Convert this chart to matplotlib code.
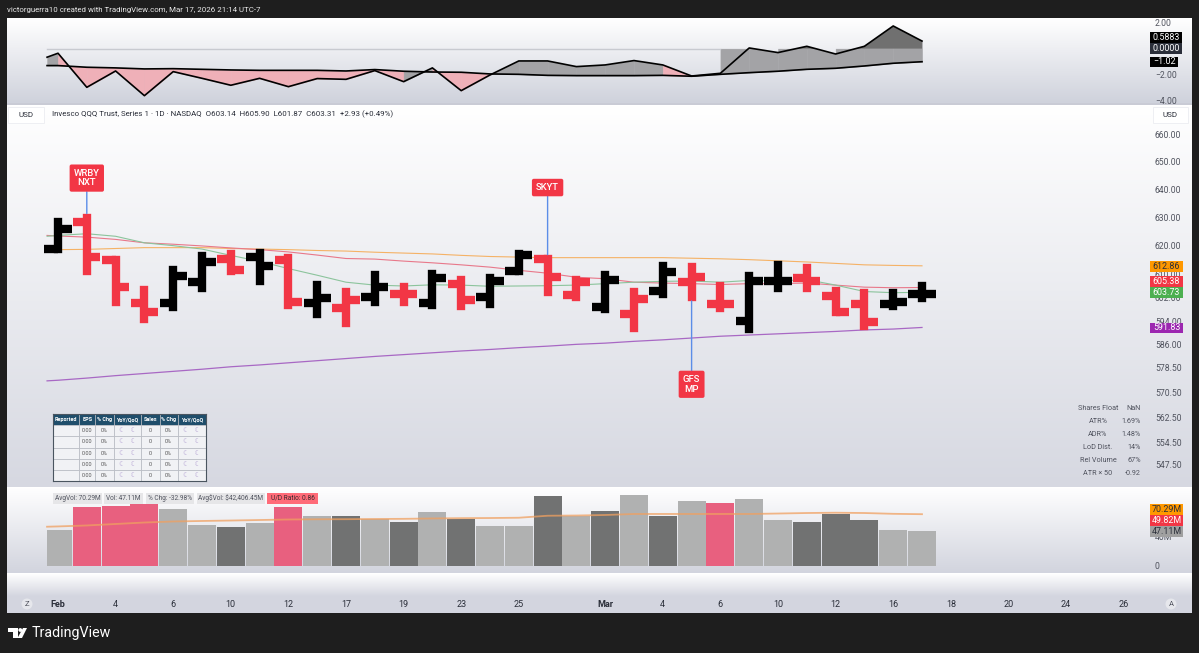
import matplotlib
matplotlib.use("Agg")
import matplotlib.pyplot as plt
from matplotlib.patches import Rectangle, Polygon, Circle
import numpy as np

plt.rcParams['font.family'] = ['Roboto', 'DejaVu Sans']

W = 1199
H = 653

# price bars (31 sessions, Feb 2 -> Mar 17)
opens = [618.8, 628.2, 614.8, 600.1, 600.1, 607.4, 615.2, 616.1, 614.8, 600.2, 598.3, 602.0, 603.3, 600.1, 606.5, 602.3,
         611.0, 615.3, 602.7, 598.7, 596.2, 604.1, 607.3, 599.7, 594.1, 607.6, 608.6, 602.6, 599.6, 599.9, 603.14]
highs = [628.4, 629.8, 614.8, 604.6, 611.3, 616.2, 616.8, 617.4, 615.7, 606.2, 603.7, 609.7, 605.7, 610.1, 607.8, 608.8,
         616.8, 615.3, 608.1, 609.8, 603.8, 612.7, 612.6, 605.9, 609.2, 613.1, 612.1, 604.2, 603.4, 603.6, 605.90]
lows = [618.7, 610.9, 600.4, 594.7, 598.8, 605.1, 610.9, 607.5, 599.5, 596.5, 593.3, 600.5, 600.5, 599.3, 599.2, 599.7,
        610.9, 603.9, 602.2, 597.9, 591.8, 603.3, 602.2, 598.4, 591.3, 605.2, 605.1, 597.0, 592.2, 599.0, 601.87]
closes = [625.9, 616.1, 605.5, 596.9, 609.5, 614.2, 611.3, 612.8, 600.4, 601.9, 601.1, 605.5, 603.3, 608.6, 601.0, 607.6,
          616.6, 609.0, 607.3, 607.8, 601.4, 610.6, 608.9, 599.7, 607.6, 607.7, 607.5, 597.1, 593.6, 600.3, 603.31]

# moving averages, first value is where the line enters at the left edge
ma_green = [623.2, 623.5, 624.1, 623.2, 620.9, 619.9, 618.7, 616.5, 614.4, 611.9, 609.6, 607.2, 606.2, 605.9, 606.3, 606.2,
            605.8, 605.9, 606.0, 606.2, 606.7, 607.2, 607.5, 607.6, 607.2, 607.8, 607.6, 608.1, 606.2, 604.0, 603.6, 603.73]
ma_red = [623.5, 623.3, 622.9, 622.1, 620.9, 620.4, 619.8, 619.1, 618.5, 617.7, 616.6, 615.4, 615.2, 614.5, 613.9, 613.2,
          612.4, 611.3, 610.3, 608.9, 608.4, 607.2, 606.9, 606.7, 606.4, 606.7, 606.7, 606.9, 606.2, 605.5, 605.3, 605.38]
ma_orange = [618.5, 618.5, 618.6, 618.9, 619.2, 619.2, 619.2, 618.9, 618.7, 618.5, 618.2, 618.0, 617.6, 617.3, 617.0, 616.5,
             616.1, 615.9, 615.7, 615.7, 615.7, 615.7, 615.7, 615.5, 615.3, 615.0, 614.6, 614.2, 613.7, 613.2, 613.0, 612.86]
ma_purple = [574.2, 574.4, 575.1, 575.9, 576.6, 577.3, 578.0, 578.8, 579.4, 580.1, 580.8, 581.5, 582.2, 582.8, 583.4, 584.0,
             584.5, 585.1, 585.6, 586.2, 586.6, 587.2, 587.7, 588.3, 588.9, 589.3, 589.7, 590.1, 590.5, 591.0, 591.3, 591.83]

# top oscillator
osc = [-0.67, -0.36, -3.01, -1.74, -3.66, -1.79, -2.31, -2.85, -2.31, -2.96, -2.33, -2.39, -1.71, -2.57, -1.50, -3.27,
       -2.05, -0.96, -0.96, -1.40, -1.27, -0.93, -1.27, -2.13, -1.92, 0.05, -0.31, 0.18, -0.42, 0.18, 1.76, 0.5883]
signal = [-1.32, -1.32, -1.45, -1.50, -1.58, -1.56, -1.61, -1.66, -1.69, -1.69, -1.69, -1.74, -1.63, -1.76, -1.82, -1.84,
          -1.97, -2.00, -2.08, -2.10, -2.10, -2.10, -2.08, -2.15, -2.00, -1.87, -1.76, -1.61, -1.53, -1.35, -1.14, -1.02]
osc_seg = "g" + "p" * 12 + "g" + "pp" + "g" * 6 + "p" + "g" * 9
osc_rising = [23, 25, 27]

# volume in millions
volume = [49.3, 79.6, 81.0, 83.7, 77.3, 55.6, 53.3, 57.9, 80.5, 68.2, 68.2, 63.8, 60.1, 73.3, 63.4, 54.3,
          54.7, 95.0, 67.8, 74.6, 96.3, 68.2, 88.6, 85.1, 91.3, 62.8, 59.3, 70.6, 62.4, 48.8, 47.11]
vol_kind = "lppplldlpldldldlldldldlplldddll"
vol_ma = [53.3, 53.7, 55.0, 57.0, 59.0, 60.4, 61.1, 61.7, 62.4, 63.1, 63.4, 63.5, 63.8, 64.0, 64.5, 64.9,
          65.1, 65.5, 68.2, 68.5, 69.2, 70.6, 70.6, 70.6, 70.6, 70.6, 71.2, 71.9, 72.3, 71.9, 70.8, 70.29]

price_ticks = [660, 650, 640, 630, 620, 610, 602, 594, 586, 578.5, 570.5, 562.5, 554.5, 547.5]
osc_ticks = [2, -2, -4]
vol_ticks = [0, 40]
date_pos = [0, 2, 4, 6, 8, 10, 12, 14, 16, 19, 21, 23, 25, 27, 29, 31, 33, 35, 37]
date_labels = ["Feb", "4", "6", "10", "12", "17", "19", "23", "25", "Mar", "4", "6", "10", "12", "16", "18", "20", "24", "26"]

marker_names = ["WRBY\nNXT", "SKYT", "GFS\nMP"]
marker_bars = [1, 17, 22]

table_cols = ["Reported", "EPS", "% Chg", "YoY/QoQ", "Sales", "% Chg", "YoY/QoQ"]
table_row = ["", "0.00", "0%", "☾   ☾", "0", "0%", "☾   ☾"]

stat_names = ["Shares Float", "ATR%", "ADR%", "LoD Dist.", "Rel Volume", "ATR × 50"]
stat_values = ["NaN", "1.69%", "1.48%", "14%", "67%", "-0.92"]

RED = "#F23645"
BAR_PINK = "#E8607F"
TXT = "#50535E"

x = np.arange(31)
x_line = np.concatenate([[-0.38], x])


def axes_px(fig, x0, y0, x1, y1):
    ax = fig.add_axes([x0 / W, 1 - y1 / H, (x1 - x0) / W, (y1 - y0) / H])
    ax.patch.set_alpha(0)
    for s in ax.spines.values():
        s.set_visible(False)
    ax.set_xlim((x0 - 58) / 28.8, (x1 - 58) / 28.8)
    ax.tick_params(length=0)
    return ax


def put(fig, px, py, s, size=6.2, color=TXT, ha='left', **kw):
    fig.text(px / W, 1 - py / H, s, fontsize=size, color=color, ha=ha, va='center', zorder=11, **kw)


def tag(fig, x0, y0, x1, y1, s, fc, tc, size=6.4, ec='none'):
    fig.add_artist(Rectangle((x0 / W, 1 - y1 / H), (x1 - x0) / W, (y1 - y0) / H, transform=fig.transFigure,
                             fc=fc, ec=ec, lw=0.6, zorder=10))
    put(fig, (x0 + x1) / 2, (y0 + y1) / 2, s, size=size, color=tc, ha='center')


def gradient(img, y0, y1, c0, c1):
    c0 = np.array(matplotlib.colors.to_rgb(c0))
    c1 = np.array(matplotlib.colors.to_rgb(c1))
    for i in range(y0, y1):
        t = (i - y0) / max(1, y1 - y0 - 1)
        img[i, :, :] = c0 + (c1 - c0) * t


def main():
    fig = plt.figure(figsize=(W / 100, H / 100), dpi=100)

    # frame and panel backgrounds
    img = np.zeros((H, W, 3))
    img[:, :, :] = matplotlib.colors.to_rgb("#1E1E1E")
    gradient(img, 18, 103, "#FFFFFF", "#CFD2DC")
    gradient(img, 103, 105, "#C9CBD5", "#C9CBD5")
    gradient(img, 105, 487, "#FFFFFF", "#D6D8E1")
    gradient(img, 487, 573, "#FFFFFF", "#D2D4DE")
    gradient(img, 573, 597, "#FFFFFF", "#D3D5DF")
    gradient(img, 597, 613, "#D3D5DF", "#D3D5DF")
    img[:, :7, :] = matplotlib.colors.to_rgb("#1E1E1E")
    img[:, 1192:, :] = matplotlib.colors.to_rgb("#1E1E1E")
    bg = fig.add_axes([0, 0, 1, 1])
    bg.imshow(img, extent=(0, W, H, 0), aspect='auto', interpolation='nearest')
    bg.set_xlim(0, W)
    bg.set_ylim(H, 0)
    bg.axis('off')

    # TradingView logo
    bg.add_patch(Polygon([(8, 628), (18, 628), (18, 638), (13, 638), (13, 632), (8, 632)], fc='white', ec='none'))
    bg.add_patch(Circle((20.3, 630), 1.9, fc='white', ec='none'))
    bg.add_patch(Polygon([(23, 628), (27, 628), (22, 638), (17.5, 638)], fc='white', ec='none'))
    for name, px in (("Z", 27), ("A", 1171)):
        bg.add_patch(Circle((px, 604), 5.5, fc="#E6E7EC", ec='none'))
        bg.text(px, 604, name, fontsize=5.5, color=TXT, ha='center', va='center')

    # oscillator panel
    ax_osc = axes_px(fig, 7, 18, 1150, 103)
    ax_osc.set_ylim(-4.23, 2.38)
    ax_osc.plot([-0.38, 23], [0, 0], color="#C8CAD0", lw=1)
    osc_a = np.array(osc)
    sig_a = np.array(signal)
    for i, kind in enumerate(osc_seg):
        col = "#EFB0B8" if kind == "p" else "#A3A3A6"
        ax_osc.fill_between(x_line[i:i + 2], osc_a[i:i + 2], sig_a[i:i + 2], color=col, lw=0.3)
    for i in osc_rising:
        ax_osc.fill_between(x_line[i + 1:i + 3], osc_a[i + 1:i + 3], 0, color="#A3A3A6", lw=0.3)
    ax_osc.fill_between(x_line[24:], osc_a[24:], 0, where=osc_a[24:] > 0, interpolate=True, color="#707070", lw=0)
    ax_osc.plot(x_line, osc, color="black", lw=1.2)
    ax_osc.plot(x_line, signal, color="black", lw=1.2)
    ax_osc.yaxis.tick_right()
    ax_osc.set_yticks(osc_ticks)
    ax_osc.set_yticklabels(["%.2f" % v if v > 0 else "−%.2f" % abs(v) for v in osc_ticks], fontsize=6.2, color=TXT)
    ax_osc.set_xticks([])

    # price panel
    ax = axes_px(fig, 7, 105, 1150, 487)
    ax.set_yscale('log')
    ax.set_ylim(540.7, 671.3)
    for i in x:
        up = i == 0 or closes[i] >= closes[i - 1]
        col = "black" if up else RED
        ax.plot([i, i], [lows[i], highs[i]], color=col, lw=6, solid_capstyle='projecting', zorder=4)
        ax.plot([i - 0.47, i], [opens[i], opens[i]], color=col, lw=6, solid_capstyle='butt', zorder=4)
        ax.plot([i, i + 0.47], [closes[i], closes[i]], color=col, lw=6, solid_capstyle='butt', zorder=4)
    ax.plot(x_line, ma_orange, color="#F5B266", lw=0.8, zorder=3)
    ax.plot(x_line, ma_red, color="#E8788A", lw=0.8, zorder=3)
    ax.plot(x_line, ma_green, color="#8CC49C", lw=0.8, zorder=3)
    ax.plot(x_line, ma_purple, color="#A868C4", lw=0.9, zorder=3)
    ax.yaxis.tick_right()
    ax.set_yticks(price_ticks)
    ax.set_yticklabels(["%.2f" % v for v in price_ticks], fontsize=6.2, color=TXT)
    ax.minorticks_off()
    ax.set_xticks([])

    offsets = [(0, 28.5), (0, 51.3), (0, -63)]
    for name, b, off in zip(marker_names, marker_bars, offsets):
        anchor = lows[b] if off[1] < 0 else highs[b]
        ax.annotate(name, xy=(b, anchor), xytext=off, textcoords='offset points', fontsize=6.8, color='white',
                    ha='center', va='center', fontweight='medium', linespacing=1.1,
                    bbox=dict(boxstyle="round,pad=0.45,rounding_size=0.2", fc=RED, ec='none'),
                    arrowprops=dict(arrowstyle='-', color="#5B8DE8", lw=1, shrinkA=0, shrinkB=3), zorder=5)

    # earnings table
    ax_t = axes_px(fig, 52.7, 414, 205.7, 481)
    ax_t.set_xticks([])
    ax_t.set_yticks([])
    tb = ax_t.table(cellText=[table_row] * 5, colLabels=table_cols,
                    colWidths=[0.172, 0.1, 0.12, 0.178, 0.118, 0.115, 0.18], bbox=[0, 0, 1, 1], cellLoc='center')
    tb.auto_set_font_size(False)
    for (r, c), cell in tb.get_celld().items():
        cell.set_linewidth(0.5)
        cell.set_edgecolor("#B5B9C0")
        if r == 0:
            cell.set_facecolor("#1F4E6B")
            cell.get_text().set_color("white")
            cell.get_text().set_fontweight('bold')
            cell.get_text().set_fontsize(4)
        else:
            cell.set_facecolor("#F1F2F5")
            cell.get_text().set_fontsize(5 if c in (3, 6) else 4)
            cell.get_text().set_color("#B9A9D6" if c in (3, 6) else "#555555")
    for s in ax_t.spines.values():
        s.set_visible(True)
        s.set_color("#4A5560")
        s.set_linewidth(0.8)

    # volume panel
    ax_v = axes_px(fig, 7, 487, 1150, 573)
    ax_v.set_ylim(-9.5, 107.2)
    colors = {"l": "#B0B1B1", "d": "#717272", "p": BAR_PINK}
    bars = ax_v.bar(x, volume, width=0.97, color=[colors[k] for k in vol_kind], edgecolor='none')
    clip = Rectangle((-0.38, 0), 40, 200, transform=ax_v.transData)
    for b in bars:
        b.set_clip_path(clip)
    ax_v.plot(x_line, vol_ma, color="#F0A060", lw=1.3, alpha=0.75)
    ax_v.yaxis.tick_right()
    ax_v.set_yticks(vol_ticks)
    ax_v.set_yticklabels(["0", "40M"], fontsize=6.2, color=TXT)
    ax_v.set_xticks(date_pos)
    ax_v.set_xticklabels(date_labels, fontsize=6.5, color="#2A2E39")
    ax_v.tick_params(axis='x', pad=19.5)
    for lab in ax_v.get_xticklabels():
        if lab.get_text() in ("Feb", "Mar"):
            lab.set_fontweight('bold')

    # header, legend line and scale boxes
    put(fig, 7, 10, "victorguerra10 created with TradingView.com, Mar 17, 2026 21:14 UTC-7", size=5.65, color="#E8E8E8")
    put(fig, 52, 114, "Invesco QQQ Trust, Series 1 · 1D · NASDAQ  O603.14  H605.90  L601.87  C603.31  +2.93 (+0.49%)", size=5.7, color="#2A2E39")
    tag(fig, 8, 107, 44, 123, "USD", "#FFFFFF", "#2A2E39", size=5.8, ec="#ECEDF1")
    tag(fig, 1153, 107, 1188, 123, "USD", "#FFFFFF", "#2A2E39", size=5.8, ec="#ECEDF1")
    fig.text(32 / W, 1 - 633 / H, "TradingView", fontsize=10.3, color="white", va='center')

    for y0, y1, s, fc, tc in [(261, 272, "612.86", "#FF9800", "#2A2E39"), (276, 287, "605.38", RED, "white"),
                              (287, 298, "603.73", "#4CAF50", "white"), (323, 333, "591.83", "#9C27B0", "white"),
                              (504, 515, "70.29M", "#FF9800", "#2A2E39"), (515, 526, "49.82M", RED, "white"),
                              (526, 537, "47.11M", "#A0A0A0", "#2A2E39")]:
        tag(fig, 1150, y0, 1183, y1, s, fc, tc)
    tag(fig, 1150, 32, 1182, 43, "0.5883", "#000000", "white")
    tag(fig, 1150, 43, 1182, 54, "0.0000", "#2A2E39", "white")
    tag(fig, 1150, 56.7, 1178, 67, "−1.02", "#000000", "white")

    # stats table on the right
    for i, (a, b) in enumerate(zip(stat_names, stat_values)):
        py = 408.3 + i * 13
        put(fig, 1098, py, a, size=5.2, ha='center')
        put(fig, 1141, py, b, size=5.2, ha='right')

    # chips above the volume bars
    for x0, x1, s, fc, tc in [(53, 102, "AvgVol: 70.29M", "#E6E6E8", TXT), (104, 143, "Vol: 47.11M", "#E6E6E8", TXT),
                              (146, 194, "% Chg: -32.98%", "#E6E6E8", TXT),
                              (197, 265, r"Avg\$Vol: \$42,406.45M", "#E6E6E8", TXT),
                              (267, 318, "U/D Ratio: 0.86", "#FF6B78", "#3A2A2E")]:
        tag(fig, x0, 493, x1, 504, s, fc, tc, size=4.7)

    fig.savefig("out.png", dpi=100)


if __name__ == "__main__":
    main()
